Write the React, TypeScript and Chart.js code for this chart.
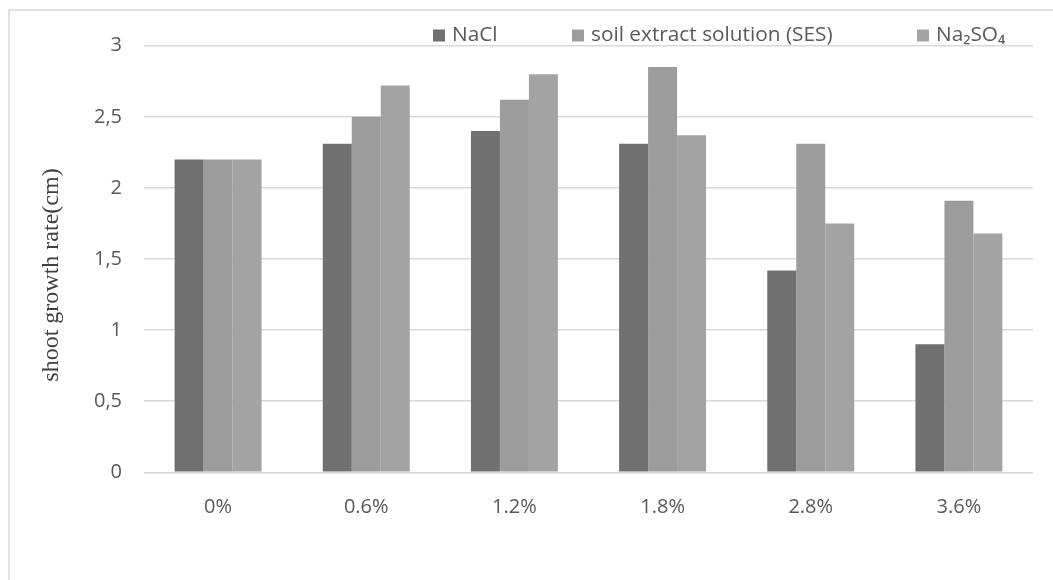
import React, { useEffect, useRef } from "react";
import { Chart, registerables } from "chart.js";

Chart.register(...registerables);

// Salt concentrations on the x axis
const categories = ["0%", "0.6%", "1.2%", "1.8%", "2.8%", "3.6%"];

// Shoot growth rate (cm) per treatment
const naclValues = [2.2, 2.31, 2.4, 2.31, 1.42, 0.9];
const sesValues = [2.2, 2.5, 2.62, 2.85, 2.31, 1.91];
const na2so4Values = [2.2, 2.72, 2.8, 2.37, 1.75, 1.68];

const seriesNames = ["NaCl", "soil extract solution (SES)", "Na\u2082SO\u2084"];
const yTickValues = [0, 0.5, 1, 1.5, 2, 2.5, 3];
const yTitle = "shoot growth rate(cm)";

const COLORS = ["#707070", "#9c9c9c", "#a3a3a3"];
const TEXT = "#595959";
const GRID = "#d9d9d9";
const SANS = '"Open Sans", sans-serif';

// Legend item x offsets (box left edges)
const LEGEND_X = [433, 572, 917];

const decorations = {
  id: "decorations",
  afterDraw(chart: Chart) {
    const ctx = chart.ctx;
    ctx.save();
    // outer frame (top and left edges)
    ctx.strokeStyle = GRID;
    ctx.lineWidth = 1.5;
    ctx.beginPath();
    ctx.moveTo(9, 580);
    ctx.lineTo(9, 10);
    ctx.lineTo(1053, 10);
    ctx.stroke();

    // legend
    ctx.font = `20.8px ${SANS}`;
    ctx.textBaseline = "middle";
    ctx.textAlign = "left";
    seriesNames.forEach((name, i) => {
      ctx.fillStyle = COLORS[i];
      ctx.fillRect(LEGEND_X[i], 29.5, 12, 12);
      ctx.fillStyle = TEXT;
      ctx.fillText(name, LEGEND_X[i] + 19, 35);
    });

    // y-axis title
    ctx.translate(52, 275);
    ctx.rotate(-Math.PI / 2);
    ctx.font = '24px "Liberation Serif", serif';
    ctx.fillStyle = "#404040";
    ctx.textAlign = "center";
    ctx.textBaseline = "middle";
    ctx.fillText(yTitle, 0, 0);
    ctx.restore();
  },
};

export default function App() {
  const canvasRef = useRef<HTMLCanvasElement | null>(null);

  useEffect(() => {
    if (!canvasRef.current) return;
    const values = [naclValues, sesValues, na2so4Values];
    const chart = new Chart(canvasRef.current, {
      type: "bar",
      data: {
        labels: categories,
        datasets: seriesNames.map((name, i) => ({
          label: name,
          data: values[i],
          backgroundColor: COLORS[i],
          borderWidth: 0,
          categoryPercentage: 0.587,
          barPercentage: 1,
        })),
      },
      options: {
        responsive: false,
        animation: false,
        devicePixelRatio: 1,
        layout: { padding: { left: 0, top: 45.7, right: 20, bottom: 0 } },
        plugins: {
          legend: { display: false },
          tooltip: { enabled: false },
        },
        scales: {
          x: {
            grid: { display: false, drawTicks: false },
            border: { display: false },
            ticks: {
              color: TEXT,
              font: { family: SANS, size: 20 },
              padding: 23,
            },
            afterFit: (scale: any) => {
              scale.height = 580 - 472.3;
            },
          },
          y: {
            min: 0,
            max: 3,
            grid: { color: GRID, lineWidth: 1.5, drawTicks: false },
            border: { display: false },
            afterBuildTicks: (scale: any) => {
              scale.ticks = yTickValues.map((v) => ({ value: v }));
            },
            ticks: {
              color: TEXT,
              font: { family: SANS, size: 20 },
              padding: 22,
              callback: (v: any) => String(v).replace(".", ","),
            },
            afterFit: (scale: any) => {
              scale.width = 144;
            },
          },
        },
      },
      plugins: [decorations],
    });
    return () => chart.destroy();
  }, []);

  return (
    <div style={{ position: "absolute", left: 0, top: 0, width: 1053, height: 580, background: "#fff" }}>
      <canvas ref={canvasRef} width={1053} height={580} style={{ width: 1053, height: 580, display: "block" }} />
    </div>
  );
}
